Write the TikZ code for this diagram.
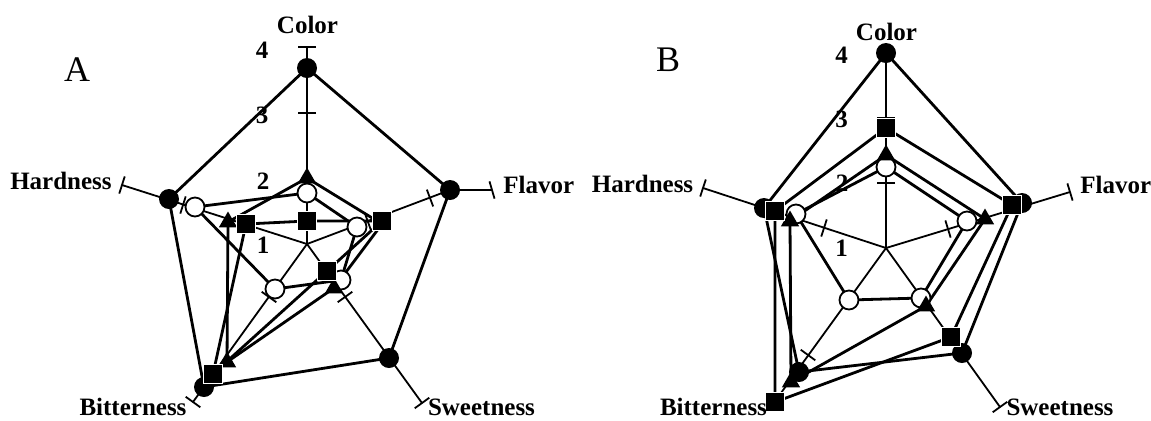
\documentclass[tikz,border=0pt]{standalone}
\usepackage{fontspec}
\setmainfont{Liberation Serif}
\usetikzlibrary{calc,shapes.geometric}
\begin{document}
\begin{tikzpicture}[x=0.5pt,y=-0.5pt,
  poly/.style={line width=1.4pt,line join=round},
  spoke/.style={line width=0.9pt},
  tk/.style={line width=0.9pt},
  fcirc/.style={circle,fill=black,minimum size=10pt,inner sep=0pt},
  ocirc/.style={circle,draw=black,fill=white,line width=0.9pt,minimum size=9.5pt,inner sep=0pt},
  tri/.style={regular polygon,regular polygon sides=3,fill=black,minimum size=10.5pt,inner sep=0pt},
  sq/.style={rectangle,fill=black,draw=white,line width=0.4pt,minimum size=9.2pt,inner sep=0pt},
  lab/.style={font=\fontsize{12.5}{14}\selectfont\bfseries,inner sep=0pt},
  big/.style={font=\fontsize{18}{20}\selectfont,inner sep=0pt}]
\path[use as bounding box] (0,0) rectangle (1151,420);

% ---------------- Panel A coordinates ----------------
\coordinate (aC) at (307,244);
\coordinate (aE-col) at (307,47);
\coordinate (aE-fla) at (492,190);
\coordinate (aE-swe) at (422,403);
\coordinate (aE-bit) at (193,402);
\coordinate (aE-har) at (122,185);
\coordinate (aF-col) at (307,68);
\coordinate (aF-fla) at (450,190);
\coordinate (aF-swe) at (389,358);
\coordinate (aF-bit) at (204,387);
\coordinate (aF-har) at (169,199);
\coordinate (aO-col) at (307,193);
\coordinate (aO-fla) at (357,227);
\coordinate (aO-swe) at (341,280);
\coordinate (aO-bit) at (275,289);
\coordinate (aO-har) at (195,207);
\coordinate (aT-col) at (307,178);
\coordinate (aT-fla) at (382,224);
\coordinate (aT-swe) at (334,288);
\coordinate (aT-bit) at (227,362);
\coordinate (aT-har) at (228,222);
\coordinate (aS-col) at (307,221);
\coordinate (aS-fla) at (382,221);
\coordinate (aS-swe) at (327,271);
\coordinate (aS-bit) at (213,374);
\coordinate (aS-har) at (246,224);
\coordinate (aK1) at (307,113);
\coordinate (aK2) at (368,222);
\coordinate (aK3) at (430,198);
\coordinate (aK4) at (345,297);
\coordinate (aK5) at (269,297);
\coordinate (aK6) at (183,205);

% spokes A
\draw[spoke] (aC) -- (aE-col);
\draw[spoke] (aC) -- (aF-fla) -- (aE-fla);
\draw[spoke] (aC) -- (aE-swe);
\draw[spoke] (aC) -- (aE-bit);
\draw[spoke] (aC) -- (aE-har);
% polygons A
\draw[poly] (aF-col) -- (aF-fla) -- (aF-swe) -- (aF-bit) -- (aF-har) -- cycle;
\draw[poly] (aO-col) -- (aO-fla) -- (aO-swe) -- (aO-bit) -- (aO-har) -- cycle;
\draw[poly] (aT-col) -- (aT-fla) -- (aT-swe) -- (aT-bit) -- (aT-har) -- cycle;
\draw[poly] (aS-col) -- (aS-fla) -- (aS-swe) -- (aS-bit) -- (aS-har) -- cycle;
% ticks A
\foreach \p in {aE-col,aE-fla,aE-swe,aE-bit,aE-har,aK1,aK2,aK3,aK4,aK5,aK6}
  \draw[tk] ($(\p)!4.5pt!90:(aC)$) -- ($(\p)!4.5pt!-90:(aC)$);
% markers A
\foreach \a in {col,fla,swe,bit,har} \node[ocirc] (naO-\a) at (aO-\a) {};
\foreach \a in {col,fla,swe,bit,har} \node[fcirc] (naF-\a) at (aF-\a) {};
\foreach \a in {col,fla,swe,bit,har} \node[tri] (naT-\a) at (aT-\a) {};
\foreach \a in {col,fla,swe,bit,har} \node[sq] (naS-\a) at (aS-\a) {};

% ---------------- Panel B coordinates ----------------
\coordinate (bC) at (886,248);
\coordinate (bE-col) at (886,53);
\coordinate (bE-fla) at (1070,192);
\coordinate (bE-swe) at (1000,407);
\coordinate (bE-bit) at (773,404);
\coordinate (bE-har) at (703,188);
\coordinate (bF-col) at (886,53);
\coordinate (bF-fla) at (1022,203);
\coordinate (bF-swe) at (962,353);
\coordinate (bF-bit) at (799,372);
\coordinate (bF-har) at (764,208);
\coordinate (bS-col) at (886,128);
\coordinate (bS-fla) at (1012,205);
\coordinate (bS-swe) at (951,337);
\coordinate (bS-bit) at (775,402);
\coordinate (bS-har) at (775,211);
\coordinate (bT-col) at (886,155);
\coordinate (bT-fla) at (985,219);
\coordinate (bT-swe) at (926,306);
\coordinate (bT-bit) at (791,382);
\coordinate (bT-har) at (790,221);
\coordinate (bO-col) at (886,167);
\coordinate (bO-fla) at (967,221);
\coordinate (bO-swe) at (921,298);
\coordinate (bO-bit) at (849,300);
\coordinate (bO-har) at (796,214);
\coordinate (bK1) at (886,118);
\coordinate (bK2) at (886,183);
\coordinate (bK3) at (948,229);
\coordinate (bK4) at (808,355);
\coordinate (bK5) at (824,228);

% spokes B
\foreach \a in {col,fla,swe,bit,har} \draw[spoke] (bC) -- (bE-\a);
% polygons B
\draw[poly] (bF-col) -- (bF-fla) -- (bF-swe) -- (bF-bit) -- (bF-har) -- cycle;
\draw[poly] (bS-col) -- (bS-fla) -- (bS-swe) -- (bS-bit) -- (bS-har) -- cycle;
\draw[poly] (bT-col) -- (bT-fla) -- (bT-swe) -- (bT-bit) -- (bT-har) -- cycle;
\draw[poly] (bO-col) -- (bO-fla) -- (bO-swe) -- (bO-bit) -- (bO-har) -- cycle;
% ticks B
\foreach \p in {bE-fla,bE-swe,bE-har,bK1,bK2,bK3,bK4,bK5}
  \draw[tk] ($(\p)!4.5pt!90:(bC)$) -- ($(\p)!4.5pt!-90:(bC)$);
% markers B
\foreach \a in {col,fla,swe,bit,har} \node[ocirc] (nbO-\a) at (bO-\a) {};
\foreach \a in {col,fla,swe,bit,har} \node[fcirc] (nbF-\a) at (bF-\a) {};
\foreach \a in {col,fla,swe,bit,har} \node[tri] (nbT-\a) at (bT-\a) {};
\foreach \a in {col,fla,swe,bit,har} \node[sq] (nbS-\a) at (bS-\a) {};

% ---------------- Labels ----------------
\node[big] (labA) at (77,70) {A};
\node[lab] (aColL) at (307.5,25) {Color};
\node[lab] (aN4) at (262,50) {4};
\node[lab] (aN3) at (262,115) {3};
\node[lab] (aN2) at (263,181) {2};
\node[lab] (aN1) at (263,245) {1};
\node[lab] (aHarL) at (61,181) {Hardness};
\node[lab,anchor=west] (aFlaL) at (503,185) {Flavor};
\node[lab] (aBitL) at (133,407) {Bitterness};
\node[lab] (aSweL) at (481.5,407) {Sweetness};

\node[big] (labB) at (668,60) {B};
\node[lab] (bColL) at (886.5,32) {Color};
\node[lab] (bN4) at (841.5,55.5) {4};
\node[lab] (bN3) at (841.5,119) {3};
\node[lab] (bN2) at (842,183) {2};
\node[lab] (bN1) at (841.5,248) {1};
\node[lab] (bHarL) at (642.5,184) {Hardness};
\node[lab,anchor=west] (bFlaL) at (1080,185) {Flavor};
\node[lab] (bBitL) at (713.5,407) {Bitterness};
\node[lab] (bSweL) at (1060,407) {Sweetness};
\end{tikzpicture}
\end{document}
